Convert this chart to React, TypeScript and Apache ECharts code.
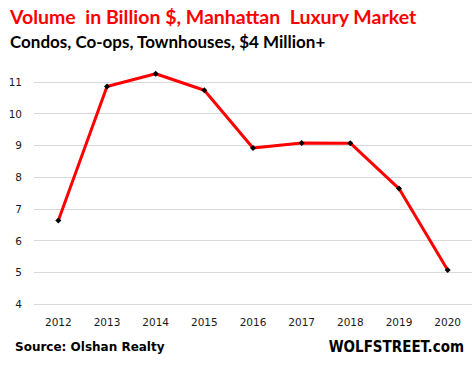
import React, { useEffect, useRef } from "react";
import * as echarts from "echarts";

const years = ["2012", "2013", "2014", "2015", "2016", "2017", "2018", "2019", "2020"];
const volume = [6.63, 10.86, 11.26, 10.74, 8.92, 9.08, 9.07, 7.64, 5.07];
const titleText = "Volume  in Billion $, Manhattan  Luxury Market";
const subtitleText = "Condos, Co-ops, Townhouses, $4 Million+";
const sourceText = "Source: Olshan Realty";
const brandText = "WOLFSTREET.com";

export default function App() {
  const ref = useRef<HTMLDivElement>(null);
  useEffect(() => {
    const chart = echarts.init(ref.current!, undefined, { renderer: "svg" });
    chart.setOption({
      animation: false,
      backgroundColor: "#ffffff",
      grid: { left: 34, right: 0, top: 82, bottom: 66, containLabel: false },
      xAxis: {
        type: "category",
        data: years,
        boundaryGap: true,
        axisLine: { show: false },
        axisTick: { show: false },
        axisLabel: { color: "#1a1a1a", fontFamily: "DejaVu Sans", fontSize: 10.5, margin: 12 },
      },
      yAxis: {
        type: "value",
        min: 4,
        max: 11,
        interval: 1,
        axisLine: { show: false },
        axisTick: { show: false },
        axisLabel: { color: "#1a1a1a", fontFamily: "DejaVu Sans", fontSize: 10.5, margin: 12 },
        splitLine: { lineStyle: { color: "#d9d9d9", width: 1 } },
      },
      series: [
        {
          type: "line",
          data: volume,
          clip: false,
          symbol: "diamond",
          symbolSize: 6,
          itemStyle: { color: "#000000" },
          lineStyle: { color: "#ff0000", width: 3 },
          z: 3,
        },
      ],
      graphic: [
        {
          type: "text",
          left: 10,
          top: 6,
          style: { text: titleText, fill: "#ff0000", font: "bold 19.5px Lato" },
        },
        {
          type: "text",
          left: 10,
          top: 33,
          style: { text: subtitleText, fill: "#000000", font: "bold 17px Lato" },
        },
        {
          type: "text",
          left: 15,
          top: 341,
          style: { text: sourceText, fill: "#000000", font: "bold 12px 'DejaVu Sans'" },
        },
        {
          type: "text",
          right: 8,
          top: 339,
          style: { text: brandText, fill: "#000000", font: "bold 15px 'DejaVu Sans Condensed', 'Liberation Sans'" },
        },
      ],
    });
    return () => chart.dispose();
  }, []);
  return <div ref={ref} style={{ width: 472, height: 370, position: "absolute", left: 0, top: 0 }} />;
}
